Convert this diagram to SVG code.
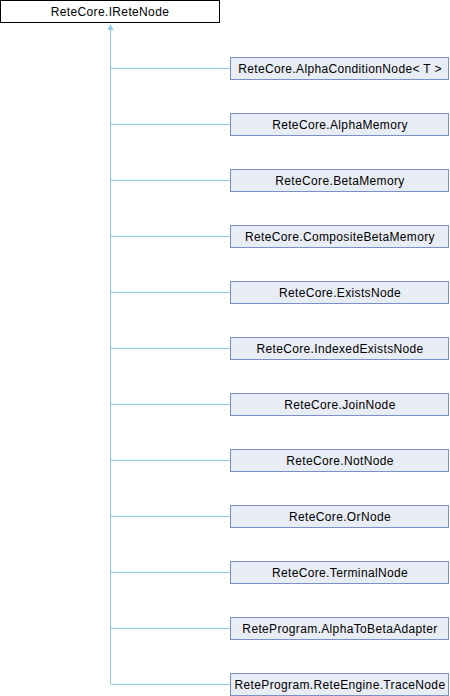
<svg xmlns="http://www.w3.org/2000/svg" width="450" height="696" viewBox="0 0 450 696">
<style>
.bg{fill:#ffffff}
.base{fill:#ffffff;stroke:#000000;stroke-width:1}
.node{fill:#e8ecf5;stroke:#7c8fc6;stroke-width:1}
.t{font-family:"Liberation Sans",Arial,sans-serif;font-size:12px;letter-spacing:0.35px;fill:#000000;text-anchor:middle}
.e{stroke:#8fcbeb;stroke-width:1;fill:none}
</style>
<rect class="bg" x="0" y="0" width="450" height="696"/>
<g id="connectors">
<path class="e" d="M110.5 30 V683.5"/>
<polygon points="110.5,24 107.5,30 113.5,30" fill="#8fcbeb"/>
<path class="e" d="M110.5 68.5 H230"/>
<path class="e" d="M110.5 124.5 H230"/>
<path class="e" d="M110.5 180.5 H230"/>
<path class="e" d="M110.5 236.5 H230"/>
<path class="e" d="M110.5 292.5 H230"/>
<path class="e" d="M110.5 348.5 H230"/>
<path class="e" d="M110.5 404.5 H230"/>
<path class="e" d="M110.5 460.5 H230"/>
<path class="e" d="M110.5 516.5 H230"/>
<path class="e" d="M110.5 572.5 H230"/>
<path class="e" d="M110.5 628.5 H230"/>
<path class="e" d="M110.5 684.5 H230"/>
</g>
<g id="IReteNode"><rect class="base" x="0.5" y="0.5" width="219" height="22"/><text class="t" x="110" y="16">ReteCore.IReteNode</text></g>
<g id="AlphaConditionNode"><rect class="node" x="230.5" y="57.5" width="218" height="22"/><text class="t" x="340" y="73">ReteCore.AlphaConditionNode&lt; T &gt;</text></g>
<g id="AlphaMemory"><rect class="node" x="230.5" y="113.5" width="218" height="22"/><text class="t" x="340" y="129">ReteCore.AlphaMemory</text></g>
<g id="BetaMemory"><rect class="node" x="230.5" y="169.5" width="218" height="22"/><text class="t" x="340" y="185">ReteCore.BetaMemory</text></g>
<g id="CompositeBetaMemory"><rect class="node" x="230.5" y="225.5" width="218" height="22"/><text class="t" x="340" y="241">ReteCore.CompositeBetaMemory</text></g>
<g id="ExistsNode"><rect class="node" x="230.5" y="281.5" width="218" height="22"/><text class="t" x="340" y="297">ReteCore.ExistsNode</text></g>
<g id="IndexedExistsNode"><rect class="node" x="230.5" y="337.5" width="218" height="22"/><text class="t" x="340" y="353">ReteCore.IndexedExistsNode</text></g>
<g id="JoinNode"><rect class="node" x="230.5" y="393.5" width="218" height="22"/><text class="t" x="340" y="409">ReteCore.JoinNode</text></g>
<g id="NotNode"><rect class="node" x="230.5" y="449.5" width="218" height="22"/><text class="t" x="340" y="465">ReteCore.NotNode</text></g>
<g id="OrNode"><rect class="node" x="230.5" y="505.5" width="218" height="22"/><text class="t" x="340" y="521">ReteCore.OrNode</text></g>
<g id="TerminalNode"><rect class="node" x="230.5" y="561.5" width="218" height="22"/><text class="t" x="340" y="577">ReteCore.TerminalNode</text></g>
<g id="AlphaToBetaAdapter"><rect class="node" x="230.5" y="617.5" width="218" height="22"/><text class="t" x="340" y="633">ReteProgram.AlphaToBetaAdapter</text></g>
<g id="TraceNode"><rect class="node" x="230.5" y="673.5" width="218" height="22"/><text class="t" x="340" y="689">ReteProgram.ReteEngine.TraceNode</text></g>
</svg>
